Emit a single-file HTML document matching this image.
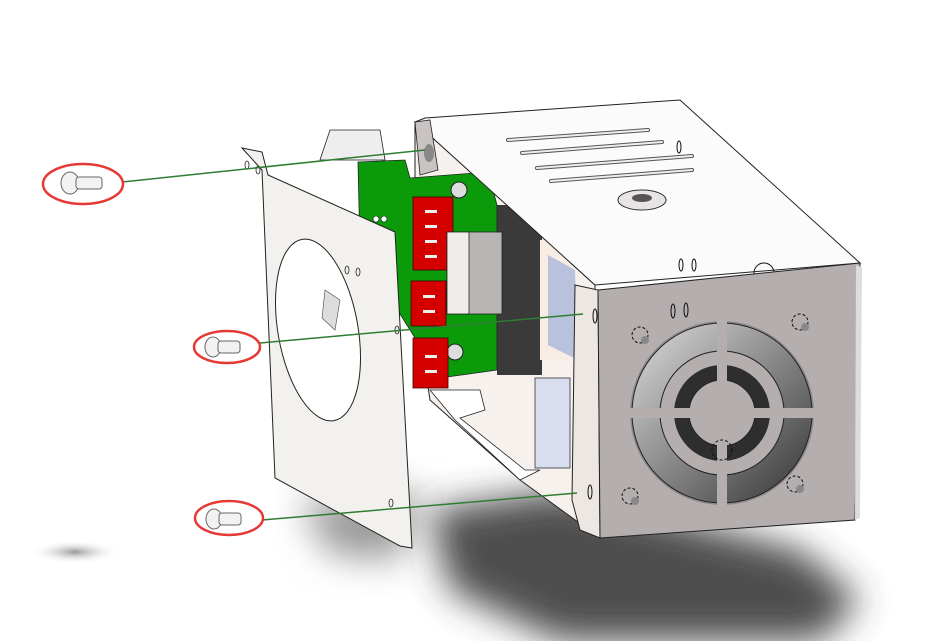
<!DOCTYPE html>
<html><head><style>html,body{margin:0;padding:0;background:#fff;}svg{display:block}</style></head>
<body>
<svg width="946" height="641" viewBox="0 0 946 641" xmlns="http://www.w3.org/2000/svg">
<defs>
<filter id="bl" x="-20%" y="-50%" width="140%" height="200%"><feGaussianBlur stdDeviation="18"/></filter>
<radialGradient id="sh2" cx="0.5" cy="0.5" r="0.5">
<stop offset="0" stop-color="#999"/><stop offset="1" stop-color="#fff" stop-opacity="0"/>
</radialGradient>
<linearGradient id="fanb" x1="0" y1="0" x2="1" y2="1"><stop offset="0" stop-color="#ddd"/><stop offset="1" stop-color="#333"/></linearGradient>
</defs>
<rect width="946" height="641" fill="#fff"/>
<!-- shadows -->
<polygon points="300,500 420,490 400,560 330,555" fill="#999" filter="url(#bl)"/>
<polygon points="430,510 560,490 800,550 860,600 820,641 560,641 450,590" fill="#3a3a3a" filter="url(#bl)" opacity="0.9"/>
<ellipse cx="75" cy="552" rx="45" ry="12" fill="url(#sh2)"/>
<!-- box back side -->
<polygon points="415,122 595,285 600,538 520,480 430,400 415,300" fill="#f6f1ec" stroke="#222" stroke-width="1"/>
<rect x="497" y="205" width="45" height="170" fill="#3a3a3a"/>
<rect x="540" y="240" width="30" height="120" fill="#f7ede4"/>
<polygon points="548,255 575,270 578,360 548,345" fill="#b8c2dc"/>
<rect x="535" y="378" width="35" height="90" fill="#d8def0" stroke="#333" stroke-width="0.8"/>
<!-- lower tray -->
<polygon points="430,390 480,390 485,410 460,418 525,470 540,470 520,480 455,420" fill="#fff" stroke="#222" stroke-width="0.8"/>
<!-- PCB -->
<polygon points="330,130 380,130 385,160 320,160" fill="#eee" stroke="#222" stroke-width="0.8"/>
<polygon points="358,162 405,160 410,178 488,172 497,205 497,370 440,378 360,250" fill="#0a9a0a" stroke="#222" stroke-width="0.8"/>
<circle cx="459" cy="190" r="8" fill="#ddd" stroke="#222"/>
<circle cx="455" cy="352" r="8" fill="#ddd" stroke="#222"/>
<rect x="413" y="197" width="40" height="73" fill="#d40000" stroke="#400" stroke-width="0.8"/>
<rect x="411" y="281" width="35" height="45" fill="#d40000" stroke="#400" stroke-width="0.8"/>
<rect x="413" y="338" width="35" height="50" fill="#d40000" stroke="#400" stroke-width="0.8"/>
<g fill="#eee"><rect x="425" y="210" width="12" height="3"/><rect x="425" y="225" width="12" height="3"/><rect x="425" y="240" width="12" height="3"/><rect x="425" y="255" width="12" height="3"/><rect x="423" y="295" width="12" height="3"/><rect x="423" y="310" width="12" height="3"/><rect x="425" y="355" width="12" height="3"/><rect x="425" y="370" width="12" height="3"/></g>
<rect x="447" y="232" width="55" height="82" fill="#b9b5b5" stroke="#222" stroke-width="0.8"/>
<rect x="447" y="232" width="22" height="82" fill="#f0ecea" stroke="#222" stroke-width="0.8"/>
<g fill="#fff" stroke="#222" stroke-width="0.6"><circle cx="376" cy="219" r="3"/><circle cx="384" cy="219" r="3"/><circle cx="376" cy="232" r="3"/><circle cx="384" cy="232" r="3"/><circle cx="376" cy="245" r="3"/><circle cx="384" cy="245" r="3"/><circle cx="376" cy="258" r="3"/><circle cx="384" cy="258" r="3"/></g>
<!-- left plate -->
<polygon points="242,148 262,152 268,175 395,232 412,548 400,546 275,478 262,170" fill="#f3f1ee" stroke="#222" stroke-width="1"/>
<ellipse cx="318" cy="330" rx="40" ry="92" fill="#fff" stroke="#222" stroke-width="1" transform="rotate(-10 318 330)"/>
<polygon points="325,290 340,300 335,330 322,318" fill="#ddd" stroke="#444" stroke-width="0.6"/>
<g fill="none" stroke="#222" stroke-width="0.8"><ellipse cx="247" cy="165" rx="2" ry="4"/><ellipse cx="258" cy="170" rx="2" ry="4"/><ellipse cx="347" cy="270" rx="2" ry="4"/><ellipse cx="358" cy="272" rx="2" ry="4"/><ellipse cx="397" cy="330" rx="2" ry="4"/><ellipse cx="391" cy="503" rx="2" ry="4"/></g>
<!-- top face -->
<polygon points="415,122 425,118 680,100 860,263 595,285" fill="#fbfbfb" stroke="#222" stroke-width="1"/>
<polygon points="415,122 430,120 438,170 420,175" fill="#c9c3c3" stroke="#222" stroke-width="0.8"/>
<ellipse cx="429" cy="153" rx="5" ry="9" fill="#888"/>
<g stroke="#555" stroke-width="4" stroke-linecap="round"><line x1="508" y1="140" x2="648" y2="130"/><line x1="522" y1="153" x2="662" y2="142"/><line x1="537" y1="168" x2="692" y2="156"/><line x1="551" y1="181" x2="692" y2="170"/></g>
<g stroke="#eee" stroke-width="2" stroke-linecap="round"><line x1="508" y1="140" x2="648" y2="130"/><line x1="522" y1="153" x2="662" y2="142"/><line x1="537" y1="168" x2="692" y2="156"/><line x1="551" y1="181" x2="692" y2="170"/></g>
<ellipse cx="642" cy="200" rx="24" ry="10" fill="#e8e4e4" stroke="#333"/>
<ellipse cx="642" cy="198" rx="10" ry="4" fill="#555"/>
<g fill="none" stroke="#111" stroke-width="1"><ellipse cx="679" cy="147" rx="2" ry="6"/><ellipse cx="681" cy="265" rx="2" ry="6"/><ellipse cx="694" cy="265" rx="2" ry="6"/><circle cx="764" cy="273" r="10"/></g>
<!-- front flange -->
<polygon points="575,285 598,290 600,538 580,530 572,500" fill="#ece7e2" stroke="#222" stroke-width="1"/>
<!-- front face -->
<polygon points="598,290 860,263 855,520 600,538" fill="#b5aeae" stroke="#222" stroke-width="1"/>
<polygon points="856,265 862,267 860,518 855,520" fill="#ddd"/>
<!-- fan -->
<circle cx="722" cy="413" r="92" fill="#8e8a8a"/>
<circle cx="722" cy="413" r="90" fill="url(#fanb)" stroke="#222"/>
<circle cx="722" cy="413" r="62" fill="#b5aeae" stroke="#222"/>
<circle cx="722" cy="413" r="48" fill="#2e2e2e"/>
<circle cx="722" cy="413" r="33" fill="#b5aeae" stroke="#222"/>
<g stroke="#b5aeae" stroke-width="10"><line x1="722" y1="318" x2="722" y2="508"/><line x1="627" y1="413" x2="817" y2="413"/></g>
<g fill="none" stroke="#111" stroke-width="1" stroke-dasharray="3,2"><circle cx="640" cy="335" r="8"/><circle cx="800" cy="322" r="8"/><circle cx="630" cy="496" r="8"/><circle cx="795" cy="484" r="8"/><circle cx="722" cy="450" r="10"/></g>
<g fill="#888"><circle cx="645" cy="340" r="4"/><circle cx="805" cy="327" r="4"/><circle cx="635" cy="501" r="4"/><circle cx="800" cy="489" r="4"/></g>
<g fill="none" stroke="#111" stroke-width="1"><ellipse cx="673" cy="311" rx="2" ry="7"/><ellipse cx="686" cy="310" rx="2" ry="7"/><ellipse cx="595" cy="316" rx="2" ry="7"/><ellipse cx="590" cy="492" rx="2" ry="7"/></g>
<!-- green lines -->
<g stroke="#2e7d32" stroke-width="1.5"><line x1="122" y1="182" x2="425" y2="150"/><line x1="260" y1="343" x2="583" y2="314"/><line x1="262" y1="520" x2="577" y2="493"/></g>
<!-- screws -->
<g fill="#f2f2f2" stroke="#666" stroke-width="1">
<ellipse cx="70" cy="183" rx="9" ry="11"/><rect x="76" y="177" width="26" height="12" rx="3"/>
<ellipse cx="213" cy="347" rx="8" ry="10"/><rect x="218" y="341" width="22" height="12" rx="3"/>
<ellipse cx="214" cy="519" rx="8" ry="10"/><rect x="219" y="513" width="22" height="12" rx="3"/>
</g>
<!-- red ellipses -->
<g fill="none" stroke="#e53935" stroke-width="2.5">
<ellipse cx="83" cy="184" rx="40" ry="20"/><ellipse cx="227" cy="347" rx="33" ry="16"/><ellipse cx="229" cy="518" rx="34" ry="17"/>
</g>
</svg>
</body></html>
